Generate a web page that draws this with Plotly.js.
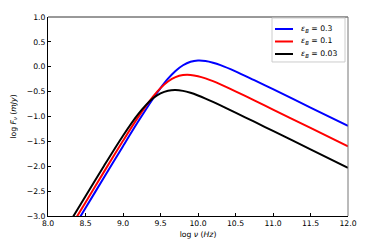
<!DOCTYPE html>
<html>
<head>
<meta charset="utf-8">
<script src="https://cdn.plot.ly/plotly-3.0.1.min.js"></script>
<style>html,body{margin:0;padding:0;background:#fff;}#chart{width:374px;height:249px;}</style>
</head>
<body>
<div id="chart"></div>
<script>
const logNu = [8.3, 8.5, 8.75, 9.0, 9.2, 9.4, 9.5, 9.6, 9.7, 9.8, 9.9, 10.0, 10.1, 10.2, 10.3, 10.5, 10.75, 11.0, 11.5, 12.0];
const fluxEps03  = [-3.34, -2.84, -2.216, -1.596, -1.107, -0.642, -0.43, -0.24, -0.084, 0.03, 0.099, 0.125, 0.116, 0.082, 0.033, -0.092, -0.27, -0.45, -0.82, -1.19];
const fluxEps01  = [-3.225, -2.727, -2.103, -1.489, -1.018, -0.599, -0.429, -0.297, -0.21, -0.168, -0.165, -0.189, -0.233, -0.29, -0.355, -0.494, -0.675, -0.86, -1.23, -1.6];
const fluxEps003 = [-3.1, -2.602, -1.984, -1.386, -0.957, -0.635, -0.535, -0.481, -0.467, -0.485, -0.524, -0.578, -0.64, -0.707, -0.777, -0.922, -1.105, -1.29, -1.66, -2.03];
const seriesNames = ['<i>ε</i><sub><i>B</i></sub> = 0.3', '<i>ε</i><sub><i>B</i></sub> = 0.1', '<i>ε</i><sub><i>B</i></sub> = 0.03'];
const seriesColors = ['#0000ff', '#ff0000', '#000000'];
const xTicks = [8.0, 8.5, 9.0, 9.5, 10.0, 10.5, 11.0, 11.5, 12.0];
const yTicks = [-3.0, -2.5, -2.0, -1.5, -1.0, -0.5, 0.0, 0.5, 1.0];

const ys = [fluxEps03, fluxEps01, fluxEps003];
const traces = ys.map((y, i) => ({
  x: logNu, y: y, type: 'scatter', mode: 'lines', name: seriesNames[i], showlegend: false,
  line: {color: seriesColors[i], width: 2, shape: 'spline', smoothing: 0.8}
}));

const font = {family: 'DejaVu Sans, sans-serif', size: 7.7, color: '#000'};

// custom legend (matplotlib-like compact box)
const legRowY = [0.9397, 0.8769, 0.8141];
const shapes = [
  {type: 'line', xref: 'paper', yref: 'paper', x0: 0, x1: 1, y0: 1, y1: 1, line: {color: '#333', width: 1}},
  {type: 'line', xref: 'paper', yref: 'paper', x0: 1, x1: 1, y0: 0, y1: 1, line: {color: '#777', width: 1}},
  {type: 'rect', xref: 'paper', yref: 'paper', x0: 0.7467, x1: 0.99, y0: 0.774, y1: 0.995,
   fillcolor: 'rgba(255,255,255,0.85)', line: {color: '#cccccc', width: 1}}
];
const annotations = [];
seriesNames.forEach((name, i) => {
  shapes.push({type: 'line', xref: 'paper', yref: 'paper', x0: 0.7567, x1: 0.8167,
               y0: legRowY[i], y1: legRowY[i], line: {color: seriesColors[i], width: 2}});
  annotations.push({xref: 'paper', yref: 'paper', x: 0.835, y: legRowY[i], xanchor: 'left', yanchor: 'middle',
                    text: name, showarrow: false, font: font});
});

const layout = {
  width: 374, height: 249,
  margin: {l: 48, r: 26, t: 17, b: 33},
  paper_bgcolor: '#fff', plot_bgcolor: '#fff',
  font: font,
  showlegend: false,
  xaxis: {range: [8, 12], tickvals: xTicks, tickformat: '.1f',
          ticks: 'inside', ticklen: 3, tickwidth: 1, tickcolor: '#000',
          showline: true, linecolor: '#000', linewidth: 1, mirror: false,
          showgrid: false, zeroline: false, tickfont: font,
          title: {text: 'log <i>ν</i> (<i>Hz</i>)', font: font, standoff: 4}},
  yaxis: {range: [-3, 1], tickvals: yTicks, tickformat: '.1f',
          ticks: 'inside', ticklen: 3, tickwidth: 1, tickcolor: '#000',
          showline: true, linecolor: '#000', linewidth: 1, mirror: false,
          showgrid: false, zeroline: false, tickfont: font,
          title: {text: 'log <i>F</i><sub><i>ν</i></sub> (<i>mJy</i>)', font: font, standoff: 9}},
  shapes: shapes,
  annotations: annotations
};
Plotly.newPlot('chart', traces, layout, {displayModeBar: false, staticPlot: true});
</script>
</body>
</html>
